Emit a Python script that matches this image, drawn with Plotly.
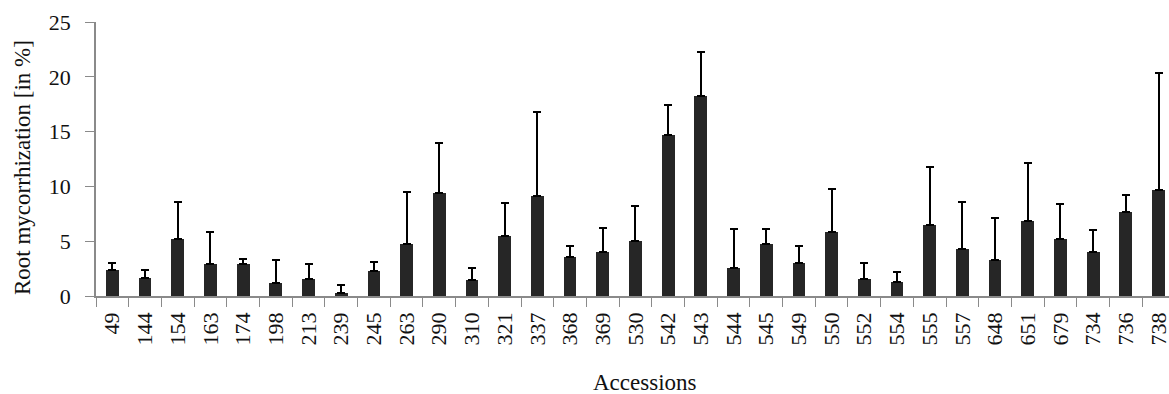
import plotly.graph_objects as go

# Accession identifiers (x categories)
accessions = ["49", "144", "154", "163", "174", "198", "213", "239", "245", "263",
              "290", "310", "321", "337", "368", "369", "530", "542", "543", "544",
              "545", "549", "550", "552", "554", "555", "557", "648", "651", "679",
              "734", "736", "738"]

# Mean root mycorrhization (%) per accession
mycorrhization = [2.35, 1.68, 5.18, 2.93, 2.93, 1.15, 1.52, 0.30, 2.25, 4.70,
                  9.42, 1.43, 5.52, 9.11, 3.52, 3.97, 5.04, 14.69, 18.25, 2.54,
                  4.79, 3.00, 5.86, 1.51, 1.26, 6.50, 4.28, 3.24, 6.80, 5.16,
                  4.06, 7.63, 9.63]

# Upper error (standard deviation) per accession
error_up = [0.62, 0.70, 3.39, 2.87, 0.49, 2.12, 1.38, 0.72, 0.85, 4.75,
            4.54, 1.11, 2.96, 7.71, 1.00, 2.26, 3.13, 2.71, 3.99, 3.53,
            1.28, 1.58, 3.87, 1.46, 0.89, 5.27, 4.26, 3.87, 5.30, 3.23,
            1.95, 1.58, 10.69]

y_ticks = [0, 5, 10, 15, 20, 25]

FONT = "Liberation Serif, Times New Roman, serif"
AXIS_GRAY = "#8a8a8a"

fig = go.Figure(
    go.Bar(
        x=accessions,
        y=mycorrhization,
        width=0.39,
        marker=dict(color="#262626", line=dict(width=0)),
        error_y=dict(
            type="data",
            symmetric=False,
            array=error_up,
            arrayminus=[0] * len(error_up),
            color="#000000",
            thickness=2,
            width=4,
        ),
    )
)

fig.update_layout(
    width=1169,
    height=394,
    margin=dict(l=96, r=0, t=22, b=98, autoexpand=False),
    paper_bgcolor="white",
    plot_bgcolor="white",
    showlegend=False,
    font=dict(family=FONT, size=22, color="#111111"),
    bargap=0,
)

fig.update_xaxes(
    type="category",
    range=[-0.5, 32.32],
    showline=True,
    linecolor=AXIS_GRAY,
    linewidth=1.5,
    showgrid=False,
    zeroline=False,
    ticks="outside",
    tickson="boundaries",
    ticklen=9,
    tickwidth=1.3,
    tickcolor=AXIS_GRAY,
    tickangle=-90,
    ticklabelstandoff=6,
    tickfont=dict(family=FONT, size=22, color="#111111"),
    automargin=False,
)

fig.update_yaxes(
    range=[0, 25],
    tickvals=y_ticks,
    showline=True,
    linecolor=AXIS_GRAY,
    linewidth=1.5,
    showgrid=False,
    zeroline=False,
    ticks="outside",
    ticklen=9,
    tickwidth=1.3,
    tickcolor=AXIS_GRAY,
    ticklabelstandoff=10,
    tickfont=dict(family=FONT, size=22, color="#111111"),
    automargin=False,
)

# Axis titles
fig.add_annotation(
    text="Accessions", xref="paper", yref="paper",
    x=(645 - 96) / 1073, y=-(383 - 296) / 274,
    xanchor="center", yanchor="middle", showarrow=False,
    font=dict(family=FONT, size=23, color="#111111"),
)
fig.add_annotation(
    text="Root mycorrhization [in %]", xref="paper", yref="paper",
    x=-(96 - 22) / 1073, y=(296 - 168) / 274,
    xanchor="center", yanchor="middle", showarrow=False, textangle=-90,
    font=dict(family=FONT, size=23, color="#111111"),
)

fig.write_html("out.html")
